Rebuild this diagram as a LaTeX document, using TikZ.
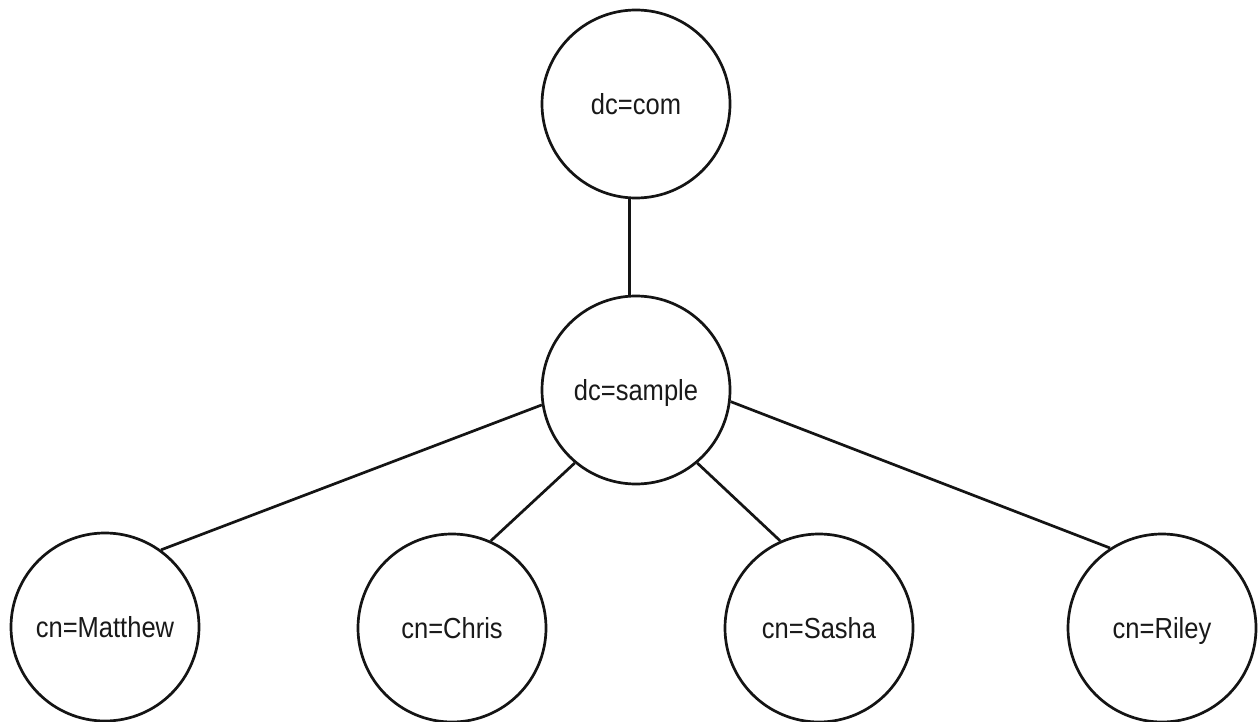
\documentclass[tikz,border=0pt]{standalone}
\usepackage{fontspec}
\setmainfont{Liberation Sans}[FakeStretch=0.88]
\begin{document}
\begin{tikzpicture}[x=1pt,y=-1pt,
  entry/.style={circle, draw=black!92, line width=2.7pt, minimum size=188pt,
    inner sep=0pt, font=\fontsize{29}{32}\selectfont, text=black!90,
    text height=21pt, text depth=0pt},
  link/.style={draw=black!92, line width=2.7pt}]
  \useasboundingbox[fill=white] (0,0) rectangle (1258,722);

  % directory tree nodes
  \node[entry] (com)     at (636,104) {dc=com};
  \node[entry] (sample)  at (636,390) {dc=sample};
  \node[entry] (matthew) at (105,627) {cn=Matthew};
  \node[entry] (chris)   at (452,628) {cn=Chris};
  \node[entry] (sasha)   at (819,628) {cn=Sasha};
  \node[entry] (riley)   at (1162,628) {cn=Riley};

  % connectors
  \draw[link] (com.266)    -- (sample.94);
  \draw[link] (sample.189) -- (matthew.54);
  \draw[link] (sample.230) -- (chris.66);
  \draw[link] (sample.310) -- (sasha.114);
  \draw[link] (sample.353) -- (riley.123);
\end{tikzpicture}
\end{document}
